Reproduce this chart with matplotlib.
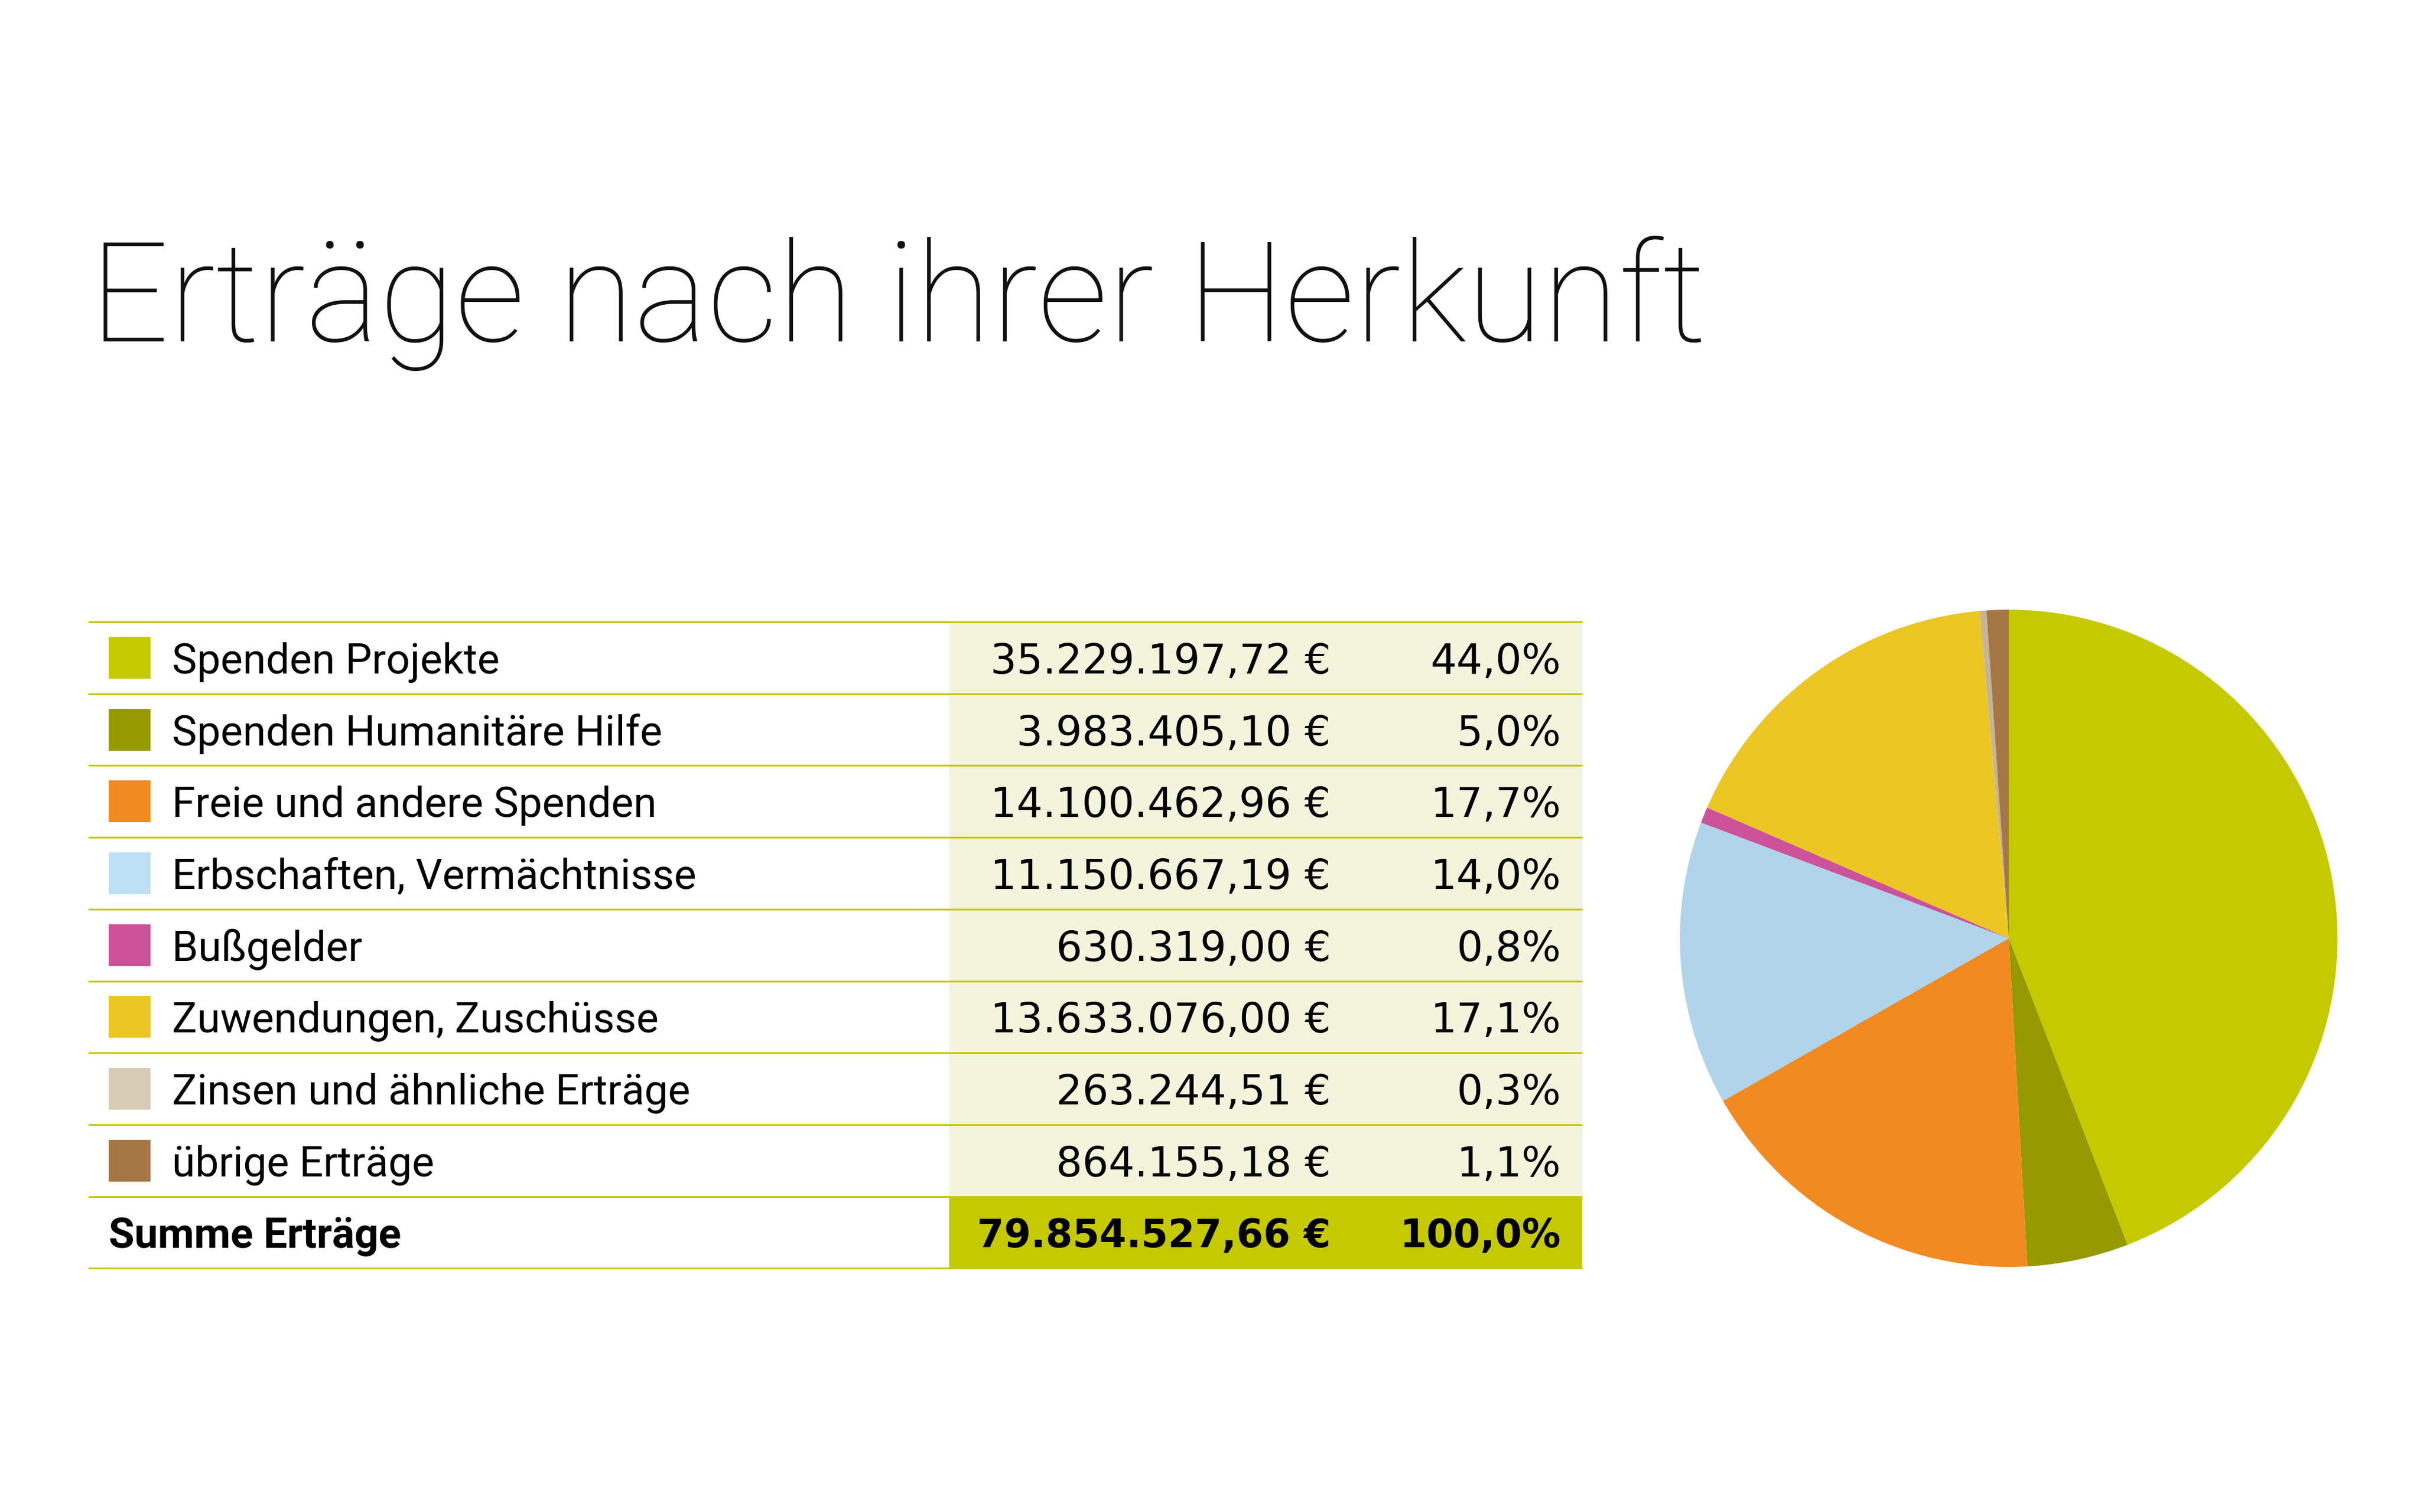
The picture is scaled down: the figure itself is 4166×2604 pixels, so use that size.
import matplotlib
matplotlib.use("Agg")
import matplotlib.pyplot as plt
from matplotlib.patches import Rectangle

# --- data ---
categories = [
    "Spenden Projekte",
    "Spenden Humanitäre Hilfe",
    "Freie und andere Spenden",
    "Erbschaften, Vermächtnisse",
    "Bußgelder",
    "Zuwendungen, Zuschüsse",
    "Zinsen und ähnliche Erträge",
    "übrige Erträge",
]
amounts = [35229197.72, 3983405.10, 14100462.96, 11150667.19,
           630319.00, 13633076.00, 263244.51, 864155.18]
percents = [44.0, 5.0, 17.7, 14.0, 0.8, 17.1, 0.3, 1.1]
total_label = "Summe Erträge"
total_amount = 79854527.66
total_percent = 100.0
title = "Erträge nach ihrer Herkunft"

pie_colors = ["#c5c900", "#949a00", "#f08a21", "#b0d4e9",
              "#cc5299", "#ecc622", "#c5b598", "#a57745"]
swatch_colors = ["#c5c900", "#949a00", "#f08a21", "#bde0f5",
                 "#cc5299", "#ecc622", "#d7cbb4", "#a57745"]
line_color = "#c5c900"
col_bg = "#f3f4dc"

plt.rcParams["font.family"] = ["Roboto", "DejaVu Sans"]
num_font = ["DejaVu Sans"]


def fmt_eur(v):
    s = f"{v:,.2f}"
    s = s.replace(",", "X").replace(".", ",").replace("X", ".")
    return s + " €"


def fmt_pct(p):
    return f"{p:.1f}%".replace(".", ",")


W, H = 4166, 2604
fig = plt.figure(figsize=(W / 100, H / 100), dpi=100)
ax = fig.add_axes([0, 0, 1, 1])
ax.set_xlim(0, W)
ax.set_ylim(H, 0)
ax.axis("off")

# title
ax.text(155, 588, title, fontsize=172, fontweight="light", color="#111111",
        ha="left", va="baseline")

# table geometry (pixels)
x0, x1, xval = 152, 2724, 1634
top, row_h = 1071, 123.7
x_amt, x_pct = 2291, 2687
fs = 52
fs_num = 51
fs_num_bold = 48

n = len(categories)
# value column background
ax.add_patch(Rectangle((xval, top), x1 - xval, n * row_h, color=col_bg, lw=0))
ax.add_patch(Rectangle((xval, top + n * row_h), x1 - xval, row_h,
                       color=line_color, lw=0))

for i, (cat, amt, pct) in enumerate(zip(categories, amounts, percents)):
    yc = top + (i + 0.5) * row_h
    ax.add_patch(Rectangle((187, yc - 36), 72, 72, color=swatch_colors[i], lw=0))
    ax.text(296, yc, cat, fontsize=fs, ha="left", va="center_baseline")
    ax.text(x_amt, yc, fmt_eur(amt), fontsize=fs_num, family=num_font,
            ha="right", va="center_baseline")
    ax.text(x_pct, yc, fmt_pct(pct), fontsize=fs_num, family=num_font,
            ha="right", va="center_baseline")

yc = top + (n + 0.5) * row_h
ax.text(187, yc, total_label, fontsize=fs, fontweight="bold", ha="left",
        va="center_baseline")
ax.text(x_amt, yc, fmt_eur(total_amount), fontsize=fs_num_bold, fontweight="bold",
        family=num_font, ha="right", va="center_baseline")
ax.text(x_pct, yc, fmt_pct(total_percent), fontsize=fs_num_bold, fontweight="bold",
        family=num_font, ha="right", va="center_baseline")

for k in range(n + 2):
    y = top + k * row_h
    ax.plot([x0, x1], [y, y], color=line_color, lw=2.2, solid_capstyle="butt")

# pie
cx, cy, r = 3458, 1616, 566
pax = fig.add_axes([(cx - r) / W, (H - cy - r) / H, 2 * r / W, 2 * r / H])
pax.pie(amounts, colors=pie_colors, startangle=90, counterclock=False,
        wedgeprops=dict(linewidth=0))
pax.set_xlim(-1, 1)
pax.set_ylim(-1, 1)
pax.set_aspect("equal")
pax.axis("off")

fig.savefig("out.png", dpi=100)
